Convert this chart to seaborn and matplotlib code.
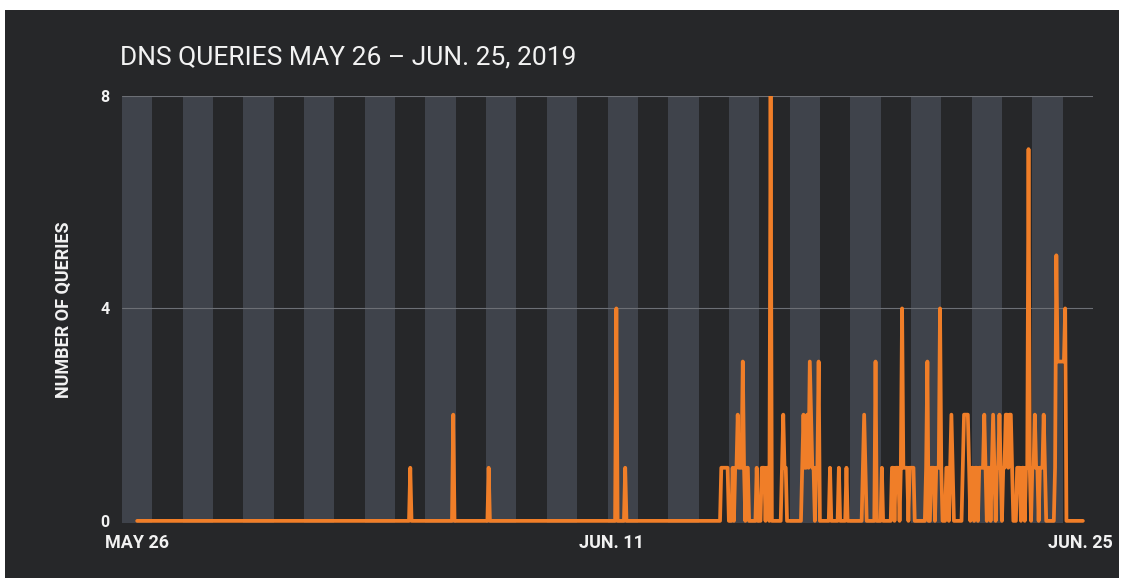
import numpy as np
import pandas as pd
import matplotlib
matplotlib.use("Agg")
import matplotlib.pyplot as plt
from matplotlib.patches import Rectangle
import seaborn as sns

# ---- data (hourly query counts, hours since May 26 00:00) ----
n_hours = 749
early_hours = [216, 250, 278, 379, 386]
early_counts = [1, 2, 1, 4, 1]

dense_start = 460
dense_counts = [
    0, 0, 1, 1, 1, 1, 1, 1, 0, 0,   # 460
    0, 1, 0, 1, 1, 2, 1, 1, 1, 3,   # 470
    1, 0, 1, 1, 0, 0, 0, 0, 0, 0,   # 480
    1, 0, 0, 0, 1, 1, 1, 0, 1, 1,   # 490
    0, 8, 0, 0, 0, 0, 0, 0, 0, 0,   # 500
    1, 2, 1, 1, 0, 0, 0, 0, 0, 0,   # 510
    0, 0, 0, 0, 0, 0, 1, 2, 1, 1,   # 520
    2, 1, 3, 2, 1, 1, 0, 1, 1, 3,   # 530
    0, 0, 0, 0, 0, 0, 0, 0, 1, 0,   # 540
    0, 0, 0, 0, 0, 1, 0, 0, 0, 0,   # 550
    0, 1, 0, 0, 0, 0, 0, 0, 0, 0,   # 560
    0, 0, 0, 0, 1, 2, 1, 0, 0, 0,   # 570
    0, 0, 0, 0, 3, 0, 0, 0, 0, 1,   # 580
    0, 0, 0, 0, 0, 0, 0, 1, 1, 0,   # 590
    1, 1, 1, 0, 1, 4, 1, 1, 1, 1,   # 600
    0, 1, 1, 1, 1, 0, 0, 0, 0, 0,   # 610
    0, 0, 0, 0, 1, 3, 0, 0, 1, 1,   # 620
    1, 0, 1, 1, 1, 4, 1, 0, 0, 0,   # 630
    1, 1, 0, 1, 2, 1, 0, 0, 0, 0,   # 640
    0, 0, 0, 1, 2, 2, 2, 2, 1, 0,   # 650
    1, 1, 0, 1, 1, 0, 1, 1, 1, 1,   # 660
    2, 1, 0, 1, 1, 0, 1, 2, 1, 0,   # 670
    1, 1, 2, 1, 0, 1, 1, 2, 2, 1,   # 680
    2, 2, 1, 0, 0, 0, 1, 1, 1, 0,   # 690
    1, 1, 0, 1, 1, 7, 1, 0, 1, 1,   # 700
    2, 1, 1, 0, 1, 1, 1, 2, 1, 0,   # 710
    0, 0, 0, 0, 0, 0, 1, 5, 3, 3,   # 720
    3, 3, 3, 3, 4, 0, 0, 0,         # 730
]

tick_days = [0, 15.62, 31.1]
tick_labels = ["MAY 26", "JUN. 11", "JUN. 25"]
y_ticks = [0, 4, 8]

counts = np.zeros(n_hours)
counts[early_hours] = early_counts
counts[dense_start:dense_start + len(dense_counts)] = dense_counts
df = pd.DataFrame({"day": np.arange(n_hours) / 24.0, "queries": counts})

# ---- style ----
sns.set_theme(style="dark")
BG = "#262729"
STRIPE = "#3f434b"
ORANGE = "#f07e28"
TXT = "#f2f2f2"
fam = ["Roboto", "DejaVu Sans"]

fig = plt.figure(figsize=(11.24, 5.78), dpi=100, facecolor="white")
fig.patches.append(Rectangle((5 / 1124, 0), 1 - 10 / 1124, 1 - 10 / 578,
                             transform=fig.transFigure, facecolor=BG,
                             edgecolor="none", zorder=-10))
ax = fig.add_axes([122 / 1124, 1 - 523 / 578, (1093 - 122) / 1124, (523 - 96) / 578])
ax.set_facecolor(BG)

for k in range(16):
    ax.axvspan(-0.5 + 2 * k, 0.5 + 2 * k, color=STRIPE, lw=0, zorder=0)

for yv in [4, 8]:
    ax.axhline(yv, color="#6c6f75", lw=0.8, zorder=1)

sns.lineplot(data=df, x="day", y="queries", ax=ax, color=ORANGE, lw=2.7,
             zorder=3, legend=False)

ax.set_xlim(-0.5, 31.5)
ax.set_ylim(-0.04, 8)
ax.grid(False)
for s in ax.spines.values():
    s.set_visible(False)

ax.set_xticks(tick_days)
ax.set_xticklabels(tick_labels, fontsize=13, fontweight="bold", color=TXT,
                   family=fam)
ax.set_yticks(y_ticks)
ax.set_yticklabels([str(v) for v in y_ticks], fontsize=11.5, fontweight="bold",
                   color=TXT, family=fam)
ax.tick_params(axis="x", length=0, pad=8)
ax.tick_params(axis="y", length=0, pad=9)
ax.set_xlabel("")
ax.set_ylabel("NUMBER OF QUERIES", fontsize=13, fontweight="bold", color=TXT,
              family=fam, labelpad=20)

fig.text(120 / 1124, 1 - 58 / 578, "DNS QUERIES MAY 26 \u2013 JUN. 25, 2019",
         fontsize=19, color=TXT, family=fam, va="center", ha="left")

fig.savefig("out.png", dpi=100, facecolor=fig.get_facecolor())
